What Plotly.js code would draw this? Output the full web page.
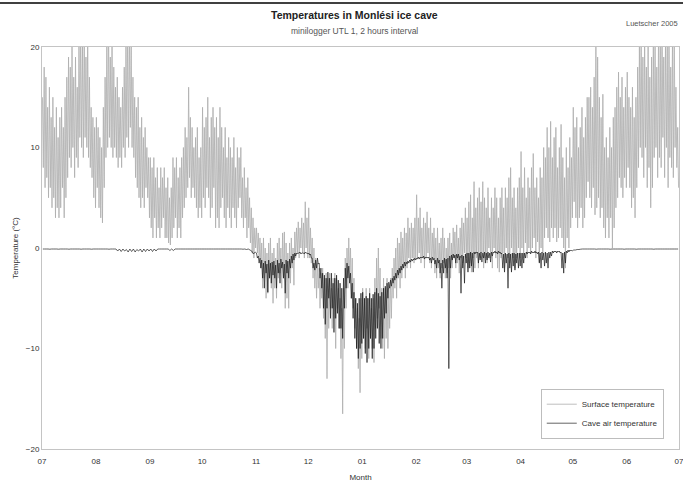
<!DOCTYPE html>
<html><head><meta charset="utf-8">
<script src="https://cdn.plot.ly/plotly-3.0.1.min.js"></script>
<style>html,body{margin:0;padding:0;background:#fff}#chart{width:683px;height:482px}</style>
</head><body><div id="chart"></div>
<script>
// Month starts (Jul 2003 .. Jun 2004) and tick labels
const monthStarts = ['2003-07-01','2003-08-01','2003-09-01','2003-10-01','2003-11-01','2003-12-01','2004-01-01','2004-02-01','2004-03-01','2004-04-01','2004-05-01','2004-06-01','2004-07-01'];

// Surface temperature (°C): per day, pairs of (afternoon high, night low)
const surfJul = [15,8, 18,6, 17,7, 14,5, 16,6, 13,4, 15,5, 12,3, 14,4, 11,3, 13,4, 14,6, 12,3, 15,5, 17,7, 19,9, 18,8, 20,10, 17,7, 19,9, 16,8, 21,11, 22,10, 20,9, 22,11, 19,10, 21,9, 17,8, 14,7, 13,5, 12,4];
const surfAug = [13,6, 12,4, 11,3, 10,2.5, 14,6, 17,9, 20,10, 22,11, 19,10, 21,9, 18,10, 16,9, 17,8, 15,9, 14,8, 16,10, 18,9, 20,11, 22,10, 21,12, 20,10, 17,9, 15,7, 14,6, 15,5, 12,4, 13,5, 11,4, 12,6, 10,5, 9,3];
const surfSep = [9,2, 8,1, 9,3, 7,1, 8,2, 6,1, 8,2, 7,3, 8,1, 6,1, 7,0.5, 5,0.3, 6,1, 9,2, 8,3, 9,1, 7,2, 8,1, 9,3, 10,4, 12,5, 11,6, 16,7, 13,5, 12,6, 10,5, 11,4, 12,3, 9,4, 10,3];
const surfOct = [14,5, 12,4, 13,6, 15,5, 11,3, 13,4, 14,6, 12,2, 13,3, 11,2, 14,4, 12,5, 10,3, 12,2, 9,4, 11,3, 10,2, 9,4, 11,3, 8,2, 10,4, 9,5, 10,3, 7,2, 8,3, 6,1, 7,2, 5,0.5, 4,-0.5, 3,-1, 2,0];
const surfNov = [2,-0.5, 1.5,-1, 1,-2, 0.5,-4, 1,-3, 0,-5, -0.5,-4.5, 0.5,-3, 1,-4, -0.5,-5.5, 0,-4, -1,-5, 0.5,-3, 1,-2.5, 0,-4, 1.5,-3, 1.6,-6, 0.5,-5, -0.5,-6, 0.5,-3.5, 1,-2, 0,-3.7, 1.6,-1, 2,-0.5, 2.6,-1, 2,0, 3,-0.5, 2.5,-1, 4.6,0, 3,-1];
const surfDec = [4,-1, 2,-1.5, 1,-3, 0,-4, -1,-5, -1.5,-4, -2,-6, -2.5,-5, -2,-7, -3,-9, -2.5,-13, -3,-8, -2.5,-6, -4,-8, -3,-7, -2.5,-10, -3,-6, -4,-8, -5,-11, -6,-16.5, -4,-10, -1,-6, 0,-4, 1,-3, 0,-5, -1,-6, -3,-8, -5,-10, -6,-12, -7,-14.4, -5,-11];
const surfJan = [-4,-9, -5,-10, -4,-8, -5,-11, -4,-9, -6,-10, -5,-11.4, -3,-8, -1,-7, 0,-6, -2,-9, -4,-10, -3,-11, -4,-9, -3,-10, -4,-8, -3,-7, -2,-5, -1,-4, 0,-5, 1,-3, 0.5,-4, 1.6,-3, 1,-2, 2,-3, 1.5,-2, 3,-1, 2,-2, 2.5,-1, 2,-1.5, 3,-1];
const surfFeb = [5.3,-1, 3,-0.5, 4,-1.5, 2,-1, 3,-2, 2.5,-1, 3.6,-0.5, 2,-1.5, 3,-2, 1.5,-1, 2,-2.5, 1,-3, 2,-2, 0.5,-3, 1,-2, 2,-1.5, 1,-3, 0,-2.5, 1,-2, 1.5,-3, 0.5,-2, 2,-1, 1.6,-2, 2.3,-1.5, 1,-2.5, 2,-1, 3,-1.5, 2.5,-0.5, 4,-1];
const surfMar = [3,-2, 4.6,-1.5, 5.3,-2.4, 3,-1, 6.6,-2, 4,-1, 5,-2, 6,-1, 4.6,-0.5, 6.6,-2, 5,-1, 4,-1.5, 6,0, 3,-1, 5,-2, 4,0, 6,-1, 5,-2, 3,-2.4, 5,-1, 6,-0.5, 4,-2, 6,0, 5,-1, 7,-1.5, 8,0, 5,-1, 6,-2, 4,-1, 6,0, 7,-1];
const surfApr = [9.6,0, 6,-1, 8,0.5, 5,-1, 7,0, 6,-0.5, 8,0, 9.4,1, 6,-1, 7,0.6, 5,-1.4, 8,0, 7,-0.5, 10,1, 9,2, 12,1, 10,0.6, 12.6,2, 9,1, 11,2, 12,0.6, 8,1, 10,2, 12.3,1, 9,0, 7,-2, 10,1, 8,0, 11,2, 9,3];
const surfMay = [14,4.6, 12,3, 13,2, 10,3, 12,4, 14,2, 11,3, 13,5, 15,6.6, 15,5, 16,4, 14,6, 17,3.3, 21,4, 19,5, 15,3, 13,4, 15.3,2, 10,1, 11,3, 9,1, 12,3, 10,0, 13,2, 14,4, 16,5, 17.5,7, 15,6, 17,5, 14,7, 16,6];
const surfJun = [17.5,8, 15,6, 14,4, 16,5, 13,3, 15,6, 18,8, 20,10, 22,9, 19,7, 21,10, 18,6, 20,8, 17,4, 19,6, 21,9, 20,10, 18,7, 22,9, 20,8, 23,11, 19,7, 21,10, 20,6, 22,9, 18,8, 21,7, 22,10, 16,8, 12,6];

// Cave air temperature (°C): daily in the stable season, 12-hourly in winter
const caveJul = [-0.1,-0.1,-0.1,-0.1,-0.12,-0.1,-0.1,-0.1,-0.1,-0.12,-0.1,-0.1,-0.1,-0.1,-0.1,-0.12,-0.1,-0.1,-0.1,-0.1,-0.1,-0.1,-0.12,-0.1,-0.1,-0.1,-0.1,-0.1,-0.12,-0.1,-0.1];
const caveAug = [-0.1,-0.1,-0.1,-0.1,-0.1,-0.1,-0.1,-0.12,-0.1,-0.1,-0.1,-0.1,-0.3,-0.1,-0.35,-0.1,-0.3,-0.15,-0.4,-0.1,-0.35,-0.1,-0.4,-0.15,-0.3,-0.1,-0.4,-0.1,-0.35,-0.1,-0.3];
const caveSep = [-0.1,-0.35,-0.1,-0.3,-0.1,-0.1,-0.1,-0.1,-0.1,-0.1,-0.1,-0.25,-0.1,-0.25,-0.1,-0.1,-0.1,-0.1,-0.1,-0.1,-0.1,-0.1,-0.1,-0.1,-0.1,-0.1,-0.1,-0.1,-0.1,-0.1];
const caveOct = [-0.1,-0.1,-0.1,-0.1,-0.1,-0.1,-0.1,-0.1,-0.1,-0.1,-0.1,-0.1,-0.1,-0.1,-0.1,-0.1,-0.1,-0.1,-0.1,-0.1,-0.1,-0.1,-0.1,-0.12,-0.1,-0.15,-0.1,-0.2,-0.3,-0.6,-0.4];
const caveNov = [-0.5,-1, -0.8,-1.5, -1,-2, -1.2,-3, -1.5,-4, -1.3,-2.5, -1.6,-4.4, -1.2,-3, -1.5,-3.5, -1.4,-2.7, -1.3,-3, -1.7,-4, -1.2,-2.5, -1.5,-3.5, -1.1,-2, -1.4,-3, -1.6,-4.5, -1.2,-2.5, -1.3,-3, -1.1,-2, -0.8,-1.5, -0.6,-1.2, -0.5,-0.8, -0.5,-0.6, -0.5,-0.5, -0.4,-0.6, -0.5,-0.5, -0.5,-0.6, -0.4,-0.5, -0.5,-0.6];
const caveDec = [-0.5,-0.7, -0.6,-1, -1,-2, -1.5,-2.2, -1.2,-2, -1,-1.6, -1.5,-3, -2,-4, -2.5,-6, -2.7,-7.6, -3,-6, -2.4,-5, -3,-7, -2.5,-6, -3.5,-8.4, -3,-7, -2.7,-6.5, -3.2,-8, -3.5,-8, -4,-9, -3,-6, -2,-4, -1.5,-3, -1.8,-3.5, -2.5,-5, -3.5,-7, -4.4,-9, -5,-10, -5.5,-11, -5,-10, -4.5,-9.5];
const caveJan = [-4.4,-9, -5,-10.5, -4.8,-11.4, -5,-10, -4.5,-9, -5,-11, -4.6,-10, -4.4,-9, -4,-8, -4.5,-9.5, -4.8,-10, -4.4,-9, -4,-7, -3.8,-6.5, -3.5,-5, -3.4,-4, -3.2,-3.8, -3,-3.5, -2.8,-3.2, -2.5,-3, -2.2,-2.7, -2,-2.5, -1.8,-2.2, -1.6,-2, -1.4,-1.8, -1.4,-1.6, -1.3,-1.5, -1.2,-1.4, -1.1,-1.3, -1.1,-1.2, -1,-1.2];
const caveFeb = [-1,-1.1, -0.9,-1.1, -0.9,-1, -0.9,-1, -0.8,-1.1, -0.9,-1, -0.9,-1, -0.9,-1.2, -1,-1.5, -0.9,-1.2, -1,-1.6, -1.2,-2, -1,-1.5, -1.2,-2.5, -1.5,-4, -1.2,-2.5, -1,-2, -1.1,-3, -1,-12, -0.8,-2, -0.7,-1.2, -0.6,-1, -0.7,-1.5, -0.6,-1, -0.6,-1.2, -0.8,-4.5, -0.7,-2, -0.8,-3.5, -0.6,-1.5];
const caveMar = [-0.5,-2.4, -0.5,-2, -0.4,-1.8, -0.5,-2.4, -0.4,-0.6, -0.4,-0.5, -0.4,-1.5, -0.5,-1.2, -0.4,-1.4, -0.5,-1, -0.4,-1.5, -0.5,-1.2, -0.4,-1, -0.5,-1.4, -0.4,-0.8, -0.4,-0.5, -0.3,-0.5, -0.4,-0.6, -0.3,-0.5, -0.4,-0.6, -0.5,-2, -0.6,-2.4, -0.5,-1.5, -0.6,-4, -0.5,-2, -0.6,-2.4, -0.5,-1.8, -0.5,-2.2, -0.6,-1.5, -0.5,-2, -0.5,-1.8];
const caveApr = [-0.5,-2, -0.5,-1.5, -0.5,-1, -0.4,-0.6, -0.4,-0.5, -0.4,-0.6, -0.3,-0.5, -0.4,-0.5, -0.3,-0.5, -0.4,-0.6, -0.4,-1.5, -0.5,-2, -0.4,-1.2, -0.5,-1.8, -0.4,-1.5, -0.5,-2, -0.4,-1, -0.4,-0.8, -0.3,-0.5, -0.3,-0.4, -0.3,-0.5, -0.3,-0.4, -0.3,-0.5, -0.4,-2, -0.5,-2.5, -0.4,-1.5, -0.3,-0.5, -0.2,-0.4, -0.2,-0.3, -0.2,-0.3];
const caveMay = [-0.2,-0.2,-0.15,-0.15,-0.12,-0.1,-0.1,-0.1,-0.1,-0.1,-0.1,-0.1,-0.1,-0.12,-0.1,-0.1,-0.1,-0.1,-0.1,-0.1,-0.1,-0.12,-0.1,-0.1,-0.1,-0.1,-0.1,-0.1,-0.1,-0.12,-0.1];
const caveJun = [-0.1,-0.1,-0.1,-0.1,-0.1,-0.12,-0.1,-0.1,-0.1,-0.1,-0.1,-0.1,-0.1,-0.1,-0.1,-0.12,-0.1,-0.1,-0.1,-0.1,-0.1,-0.1,-0.1,-0.1,-0.1,-0.1,-0.1,-0.1,-0.1,-0.1];

const surfMonths = [surfJul,surfAug,surfSep,surfOct,surfNov,surfDec,surfJan,surfFeb,surfMar,surfApr,surfMay,surfJun];
const caveMonths = [caveJul,caveAug,caveSep,caveOct,caveNov,caveDec,caveJan,caveFeb,caveMar,caveApr,caveMay,caveJun];

function toSeries(months){
  const xs=[], ys=[];
  months.forEach((arr,m)=>{
    const a=Date.parse(monthStarts[m]+'T00:00:00Z'), b=Date.parse(monthStarts[m+1]+'T00:00:00Z');
    const step=(b-a)/arr.length;
    arr.forEach((v,j)=>{
      xs.push(new Date(a+j*step+step/2).toISOString().slice(0,16).replace('T',' '));
      ys.push(v);
    });
  });
  return {x:xs,y:ys};
}
const S=toSeries(surfMonths), C=toSeries(caveMonths);

const FONT='Liberation Sans, Arial, sans-serif';
const data=[
  {type:'scatter',mode:'lines',name:'Surface temperature',x:S.x,y:S.y,
   line:{color:'#adadad',width:0.8,simplify:false},hoverinfo:'skip'},
  {type:'scatter',mode:'lines',name:'Cave air temperature',x:C.x,y:C.y,
   line:{color:'#111111',width:0.65,simplify:false},hoverinfo:'skip'}
];
const layout={
  width:683,height:482,
  margin:{l:42,r:4,t:47,b:33},
  paper_bgcolor:'#fff',plot_bgcolor:'#fff',
  font:{family:FONT,size:8,color:'#333'},
  showlegend:true,
  legend:{x:0.783,y:0.15,xanchor:'left',yanchor:'top',bordercolor:'#bdbdbd',borderwidth:1,
          bgcolor:'#fff',font:{family:FONT,size:8,color:'#333'},itemwidth:30,tracegroupgap:0},
  xaxis:{type:'date',range:[monthStarts[0],monthStarts[12]],tick0:monthStarts[0],dtick:'M1',tickformat:'%m',
         showline:true,mirror:true,linecolor:'#c4c4c4',linewidth:1,showgrid:false,zeroline:false,ticks:'',
         ticklabeloverflow:'allow',ticklabelstandoff:4,
         tickfont:{family:FONT,size:8,color:'#333'},
         title:{text:'Month',font:{family:FONT,size:8,color:'#333'},standoff:10}},
  yaxis:{range:[-20,20],dtick:10,tick0:0,showline:true,mirror:true,linecolor:'#c4c4c4',linewidth:1,
         showgrid:false,zeroline:false,ticks:'',tickfont:{family:FONT,size:8,color:'#333'},
         title:{text:'Temperature (°C)',font:{family:FONT,size:8,color:'#333'},standoff:6}},
  annotations:[
    {xref:'paper',yref:'paper',x:0.491,y:1.0796,xanchor:'center',yanchor:'middle',showarrow:false,
     text:'<b>Temperatures in Monlési ice cave</b>',font:{family:FONT,size:10.5,color:'#222'}},
    {xref:'paper',yref:'paper',x:0.491,y:1.0398,xanchor:'center',yanchor:'middle',showarrow:false,
     text:'minilogger UTL 1, 2 hours interval',font:{family:FONT,size:8.5,color:'#555'}},
    {xref:'paper',yref:'paper',x:0.913,y:1.0597,xanchor:'left',yanchor:'middle',showarrow:false,
     text:'Luetscher 2005',font:{family:FONT,size:7.5,color:'#555'}}
  ],
  shapes:[
    {type:'line',xref:'paper',yref:'paper',x0:-0.07,x1:1.01,y0:1.1095,y1:1.1095,line:{color:'#000',width:1.5}}
  ]
};
Plotly.newPlot('chart',data,layout,{staticPlot:true,displayModeBar:false});
</script></body></html>
